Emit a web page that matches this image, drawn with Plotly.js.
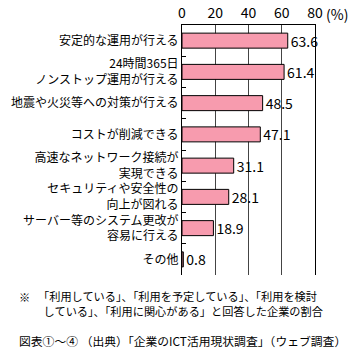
<!DOCTYPE html>
<html>
<head>
<meta charset="utf-8">
<script src="https://cdn.plot.ly/plotly-3.0.1.min.js"></script>
<style>html,body{margin:0;padding:0;background:#fff;}#chart{width:355px;height:357px;}</style>
</head>
<body>
<div id="chart"></div>
<script>
const categories = [
  "安定的な運用が行える",
  "24時間365日<br>ノンストップ運用が行える",
  "地震や火災等への対策が行える",
  "コストが削減できる",
  "高速なネットワーク接続が<br>実現できる",
  "セキュリティや安全性の<br>向上が図れる",
  "サーバー等のシステム更改が<br>容易に行える",
  "その他"
];
const values = [63.6, 61.4, 48.5, 47.1, 31.1, 28.1, 18.9, 0.8];
const xTickVals = [0, 20, 40, 60, 80];
const xTickText = ["0", "20", "40", "60", "80"];
const unitLabel = "(%)";
const noteMark = "※";
const noteLine1 = "「利用している」、「利用を予定している」、「利用を検討";
const noteLine2 = "している」、「利用に関心がある」と回答した企業の割合";
const sourceLine = "図表①～④ （出典）「企業のICT活用現状調査」（ウェブ調査）";

const FONT = "Noto Sans CJK JP, Noto Sans, sans-serif";
const W = 355, H = 357;
const M = {l: 182, r: 40, t: 25, b: 82};
const pw = W - M.l - M.r, ph = H - M.t - M.b;
const px = x => (x - M.l) / pw;
const py = y => (H - M.b - y) / ph;

const trace = {
  type: "bar",
  orientation: "h",
  x: values,
  y: categories,
  marker: {color: "#F79BAE", line: {color: "#000", width: 1}},
  text: values.map(v => v.toFixed(1)),
  textposition: "outside",
  constraintext: "none",
  textfont: {family: FONT, size: 14, color: "#000"},
  cliponaxis: false,
  hoverinfo: "none"
};

const layout = {
  width: W, height: H,
  margin: M,
  paper_bgcolor: "#fff",
  plot_bgcolor: "#fff",
  showlegend: false,
  bargap: 0.52,
  font: {family: FONT, color: "#000"},
  xaxis: {
    side: "top",
    range: [0, 80],
    tickvals: xTickVals,
    ticktext: xTickText,
    tickfont: {family: FONT, size: 14, color: "#000"},
    showgrid: true,
    gridcolor: "#444",
    gridwidth: 1,
    showline: true,
    linecolor: "#000",
    linewidth: 1,
    ticks: "",
    zeroline: false,
    fixedrange: true
  },
  yaxis: {
    autorange: "reversed",
    showline: true,
    mirror: true,
    linecolor: "#000",
    linewidth: 1,
    ticks: "inside",
    tickson: "boundaries",
    ticklen: 4,
    tickcolor: "#000",
    tickfont: {family: FONT, size: 12, color: "#000"},
    showgrid: false,
    fixedrange: true
  },
  annotations: [
    {xref: "paper", yref: "paper", x: px(324), y: py(14), xanchor: "left", yanchor: "middle",
     text: unitLabel, showarrow: false, font: {family: FONT, size: 14, color: "#000"}},
    {xref: "paper", yref: "paper", x: px(17), y: py(297), xanchor: "left", yanchor: "middle",
     text: noteMark, showarrow: false, font: {family: FONT, size: 11.2, color: "#000"}},
    {xref: "paper", yref: "paper", x: px(36), y: py(303.5), xanchor: "left", yanchor: "middle",
     align: "left",
     text: noteLine1 + "<br>\u2002" + noteLine2, showarrow: false,
     font: {family: FONT, size: 11.2, color: "#000"}},
    {xref: "paper", yref: "paper", x: px(17), y: py(340), xanchor: "left", yanchor: "middle",
     text: sourceLine, showarrow: false, font: {family: FONT, size: 11.8, color: "#000"}}
  ]
};

Plotly.newPlot("chart", [trace], layout, {displayModeBar: false, staticPlot: true});
</script>
</body>
</html>
